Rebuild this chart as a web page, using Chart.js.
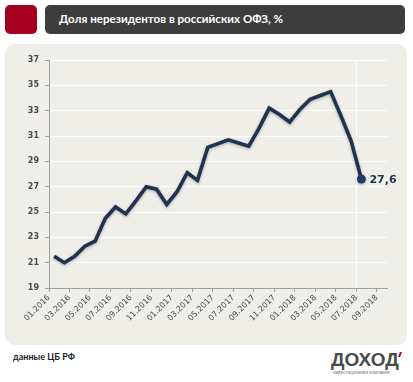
<!DOCTYPE html>
<html><head><meta charset="utf-8">
<script src="https://cdn.jsdelivr.net/npm/chart.js@4/dist/chart.umd.min.js"></script>
<style>
html,body{margin:0;padding:0;background:#fff;}
#wrap{position:relative;width:413px;height:382px;overflow:hidden;font-family:Lato,"Noto Sans",sans-serif;}
#sq{position:absolute;left:5px;top:5px;width:32px;height:29px;background:#a5001f;border-radius:5px;}
#bar{position:absolute;left:45px;top:5px;width:360px;height:29px;background:#3d3d3d;border-radius:5px;}
#title{position:absolute;left:59px;top:12px;color:#fff;font-weight:bold;font-size:11.6px;white-space:nowrap;}
#panel{position:absolute;left:5px;top:44px;width:402px;height:301px;background:#efeee8;border-radius:10px;}
#src{position:absolute;left:13px;top:351px;font-size:9px;font-weight:bold;color:#222;}
#logo{position:absolute;left:331px;top:349px;font-size:19px;font-weight:bold;color:#4a4a4a;font-family:"Liberation Sans",sans-serif;line-height:22px;white-space:nowrap;}
#acc{position:absolute;left:399px;top:352px;width:2px;height:5px;background:#c00020;transform:skewX(-20deg);}
#sub{position:absolute;left:333px;top:370px;font-size:4.6px;color:#777;white-space:nowrap;font-family:"Liberation Sans",sans-serif;}
canvas{position:absolute;left:0;top:0;}
</style></head>
<body><div id="wrap">
<div id="sq"></div><div id="bar"></div>
<div id="title">Доля нерезидентов в российских ОФЗ, %</div>
<div id="panel"></div>
<div id="src">данные ЦБ РФ</div>
<div id="logo">ДОХОД</div><div id="acc"></div>
<div id="sub">инвестиционная компания</div>
<canvas id="c" width="413" height="382"></canvas>
</div>
<script>
const tickLabels = ["01.2016","03.2016","05.2016","07.2016","09.2016","11.2016","01.2017","03.2017","05.2017","07.2017","09.2017","11.2017","01.2018","03.2018","05.2018","07.2018","09.2018"];
const months = ["01.2016","02.2016","03.2016","04.2016","05.2016","06.2016","07.2016","08.2016","09.2016","10.2016","11.2016","12.2016",
"01.2017","02.2017","03.2017","04.2017","05.2017","06.2017","07.2017","08.2017","09.2017","10.2017","11.2017","12.2017",
"01.2018","02.2018","03.2018","04.2018","05.2018","06.2018","07.2018"];
const share = [21.5,21.0,21.5,22.3,22.7,24.5,25.4,24.85,25.9,27.0,26.8,25.6,26.6,28.1,27.5,30.1,30.4,30.7,30.45,30.2,31.6,33.2,32.7,32.1,33.1,33.9,34.2,34.5,32.6,30.6,27.6];
const yTicks = [19,21,23,25,27,29,31,33,35,37];

const pts = share.map((v,i)=>({x:i+0.5,y:v}));
const lastIdx = share.length-1;

const shadowPlugin = {
  id:'shadow',
  beforeDatasetDraw(chart){const c=chart.ctx;c.save();c.shadowColor='rgba(20,30,50,0.35)';c.shadowBlur=3;c.shadowOffsetY=1;},
  afterDatasetDraw(chart){chart.ctx.restore();}
};
const labelPlugin = {
  id:'lastLabel',
  afterDatasetsDraw(chart){
    const el = chart.getDatasetMeta(0).data[lastIdx];
    const c=chart.ctx;c.save();
    c.font='bold 11px "DejaVu Sans", sans-serif';c.fillStyle='#1f3350';c.textBaseline='middle';
    c.fillText(String(share[lastIdx]).replace('.',','), el.x+8, el.y+1);
    c.restore();
  }
};

new Chart(document.getElementById('c'),{
  type:'line',
  data:{datasets:[{data:pts,borderColor:'#1f3350',borderWidth:3.6,tension:0,
    pointRadius:share.map((v,i)=>i===lastIdx?4.5:0),pointBackgroundColor:'#1f3a60',pointBorderWidth:0,pointHoverRadius:0}]},
  options:{
    responsive:false,animation:false,devicePixelRatio:1,
    layout:{padding:{left:0,top:60,right:26,bottom:0}},
    plugins:{legend:{display:false},tooltip:{enabled:false}},
    events:[],
    scales:{
      x:{type:'linear',min:0,max:33,
        afterBuildTicks(s){s.ticks=tickLabels.map((t,i)=>({value:i*2}));},
        afterFit(s){s.height=94;},
        ticks:{autoSkip:false,maxRotation:45,minRotation:45,color:'#4a4a4a',font:{family:'"DejaVu Sans"',size:8},padding:1,
          callback:(v)=>tickLabels[Math.round(v/2)]},
        grid:{drawOnChartArea:true,tickLength:4,tickColor:'#a0a0a0',
          color:(ctx)=>ctx.tick && ctx.tick.value===30?'rgba(255,255,255,0.9)':'rgba(0,0,0,0)'},
        border:{color:'#a0a0a0',width:1}
      },
      y:{min:19,max:37,
        afterBuildTicks(s){s.ticks=yTicks.map(v=>({value:v}));},
        afterFit(s){s.width=49;},
        ticks:{color:'#4a4a4a',font:{family:'"DejaVu Sans"',size:8,weight:'bold'},padding:6},
        grid:{tickLength:4,tickColor:'#a0a0a0',color:(ctx)=>ctx.tick&&ctx.tick.value===19?'rgba(0,0,0,0)':'rgba(255,255,255,0.85)'},
        border:{color:'#a0a0a0',width:1}
      }
    }
  },
  plugins:[shadowPlugin,labelPlugin]
});
</script>
</body></html>
